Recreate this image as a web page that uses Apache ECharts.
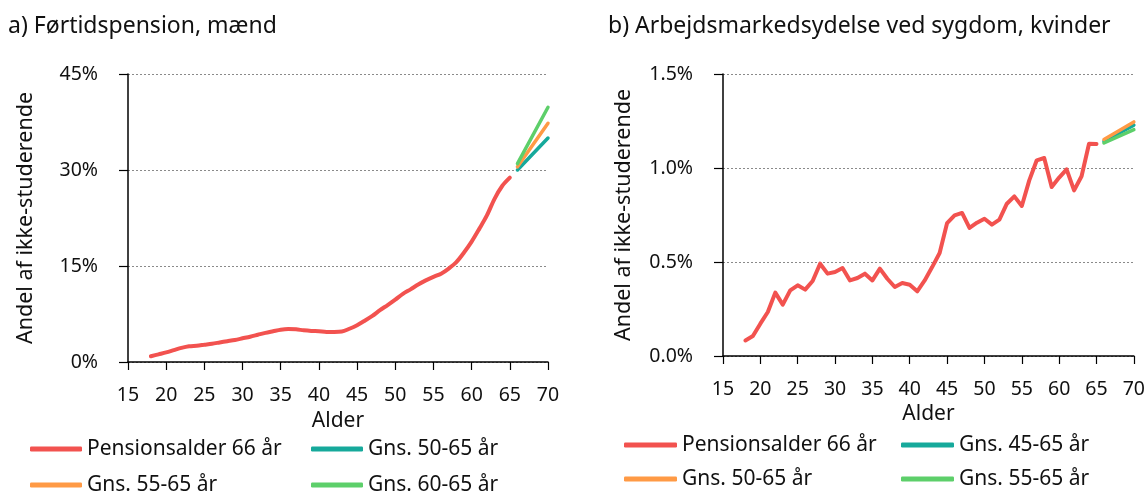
<!DOCTYPE html>
<html>
<head>
<meta charset="utf-8">
<script src="https://cdn.jsdelivr.net/npm/echarts@6/dist/echarts.min.js"></script>
<style>
  html, body { margin: 0; padding: 0; background: #fff; }
  #wrap { position: relative; width: 1148px; height: 491px; overflow: hidden; }
  #chartA { position: absolute; left: 0; top: 0; width: 590px; height: 560px; }
  #chartB { position: absolute; left: 590px; top: 0; width: 558px; height: 560px; }
</style>
</head>
<body>
<div id="wrap">
  <div id="chartA"></div>
  <div id="chartB"></div>
</div>
<script>
// ---- Panel a) Førtidspension, mænd ----
const agesA = [18,19,20,21,22,23,24,25,26,27,28,29,30,31,32,33,34,35,36,37,38,39,40,41,42,43,44,45,46,47,48,49,50,51,52,53,54,55,56,57,58,59,60,61,62,63,64,65];
const pensionA = [0.9,1.2,1.5,1.85,2.2,2.45,2.55,2.7,2.85,3.05,3.25,3.45,3.7,3.95,4.25,4.55,4.8,5.05,5.15,5.1,4.95,4.85,4.8,4.7,4.7,4.75,5.2,5.75,6.45,7.2,8.1,8.9,9.75,10.65,11.35,12.1,12.75,13.3,13.8,14.6,15.6,17.1,18.8,20.8,22.9,25.5,27.5,28.8];
const projAgesA = [66, 70];
const gns5065A = [30.0, 35.0];
const gns5565A = [30.5, 37.3];
const gns6065A = [31.0, 39.8];
const yTicksA = [0, 15, 30, 45];

// ---- Panel b) Arbejdsmarkedsydelse ved sygdom, kvinder ----
const agesB = [18,19,20,21,22,23,24,25,26,27,28,29,30,31,32,33,34,35,36,37,38,39,40,41,42,43,44,45,46,47,48,49,50,51,52,53,54,55,56,57,58,59,60,61,62,63,64,65];
const pensionB = [0.083,0.106,0.172,0.234,0.337,0.273,0.349,0.376,0.353,0.399,0.491,0.438,0.447,0.468,0.402,0.415,0.438,0.402,0.465,0.411,0.367,0.388,0.379,0.344,0.402,0.473,0.548,0.707,0.748,0.761,0.681,0.709,0.730,0.699,0.725,0.810,0.849,0.798,0.934,1.041,1.053,0.899,0.949,0.993,0.881,0.956,1.129,1.128];
const projAgesB = [66, 70];
const gns4565B = [1.142, 1.228];
const gns5065B = [1.151, 1.245];
const gns5565B = [1.133, 1.204];
const yTicksB = [0, 0.5, 1.0, 1.5];

const xTicks = [15, 20, 25, 30, 35, 40, 45, 50, 55, 60, 65, 70];

const RED = '#F2524F', TEAL = '#16A99B', ORANGE = '#FF9A45', GREEN = '#5DCF6A';
const FONT = '"Noto Sans", "Open Sans", sans-serif';

function pairs(xs, ys) { return xs.map((x, i) => [x, ys[i]]); }

function panel(cfg) {
  const axisLine = { show: true, lineStyle: { color: '#000', width: 1.5 } };
  const mkSeries = (name, xs, ys, color, width, smooth) => ({
    name, type: 'line', data: pairs(xs, ys), symbol: 'none', smooth: smooth,
    lineStyle: { color, width, cap: 'round', join: 'round' },
    itemStyle: { color }, animation: false
  });
  const legendCol = (left, names) => ({
    orient: 'vertical', left, top: cfg.legTop, itemGap: cfg.legGap, padding: 0,
    itemWidth: cfg.legW, itemHeight: 5, icon: 'roundRect',
    textStyle: { fontFamily: FONT, fontSize: 21, color: '#111', lineHeight: 22 },
    data: names
  });
  return {
    animation: false,
    textStyle: { fontFamily: FONT },
    title: {
      text: cfg.title, left: cfg.titleLeft, top: 10,
      textStyle: { fontFamily: FONT, fontSize: 23, fontWeight: 'normal', color: '#111' }
    },
    grid: { left: cfg.grid.left, top: cfg.grid.top, width: cfg.grid.width, height: cfg.grid.height },
    legend: [
      legendCol(cfg.leg1, [cfg.series[0].name, cfg.series[2].name]),
      legendCol(cfg.leg2, [cfg.series[1].name, cfg.series[3].name])
    ],
    xAxis: {
      type: 'value', min: xTicks[0], max: xTicks[xTicks.length - 1], interval: 5,
      name: 'Alder', nameLocation: 'middle', nameGap: cfg.xNameGap,
      nameTextStyle: { fontFamily: FONT, fontSize: 21, color: '#111' },
      axisLine, axisTick: { show: true, length: 8, lineStyle: { color: '#000', width: 1.2 } },
      axisLabel: { fontFamily: FONT, fontSize: 19.5, color: '#111', margin: cfg.xLabelMargin },
      splitLine: { show: false }
    },
    yAxis: {
      type: 'value', min: cfg.yTicks[0], max: cfg.yTicks[cfg.yTicks.length - 1],
      interval: cfg.yTicks[1] - cfg.yTicks[0],
      name: 'Andel af ikke-studerende', nameLocation: 'middle', nameGap: cfg.yNameGap,
      nameTextStyle: { fontFamily: FONT, fontSize: 21.5, color: '#111' },
      axisLine, axisTick: { show: true, length: 9, lineStyle: { color: '#000', width: 1.2 } },
      axisLabel: { fontFamily: FONT, fontSize: 19.5, color: '#111', margin: 30, formatter: cfg.yFmt },
      splitLine: { show: true, lineStyle: { color: '#8a8a8a', width: 1, type: [2, 2] } }
    },
    series: cfg.series.map(s => mkSeries(s.name, s.x, s.y, s.color, s.width, s.smooth))
  };
}

const chartA = echarts.init(document.getElementById('chartA'), null, { renderer: 'canvas' });
chartA.setOption(panel({
  title: 'a) Førtidspension, mænd', titleLeft: 3,
  grid: { left: 128, top: 74, width: 420, height: 288 },
  yTicks: yTicksA, yFmt: v => v + '%', yNameGap: 91,
  xNameGap: 49, xLabelMargin: 23,
  leg1: 30, leg2: 311, legTop: 438, legGap: 14, legW: 52,
  series: [
    { name: 'Pensionsalder 66 år', x: agesA, y: pensionA, color: RED, width: 4, smooth: 0.3 },
    { name: 'Gns. 50-65 år', x: projAgesA, y: gns5065A, color: TEAL, width: 3.5, smooth: false },
    { name: 'Gns. 55-65 år', x: projAgesA, y: gns5565A, color: ORANGE, width: 3.5, smooth: false },
    { name: 'Gns. 60-65 år', x: projAgesA, y: gns6065A, color: GREEN, width: 3.5, smooth: false }
  ]
}));

const chartB = echarts.init(document.getElementById('chartB'), null, { renderer: 'canvas' });
chartB.setOption(panel({
  title: 'b) Arbejdsmarkedsydelse ved sygdom, kvinder', titleLeft: 13,
  grid: { left: 133, top: 74, width: 412, height: 282 },
  yTicks: yTicksB, yFmt: v => v.toFixed(1) + '%', yNameGap: 88,
  xNameGap: 47, xLabelMargin: 23,
  leg1: 34, leg2: 311, legTop: 434, legGap: 12, legW: 53,
  series: [
    { name: 'Pensionsalder 66 år', x: agesB, y: pensionB, color: RED, width: 4, smooth: false },
    { name: 'Gns. 45-65 år', x: projAgesB, y: gns4565B, color: TEAL, width: 3.5, smooth: false },
    { name: 'Gns. 50-65 år', x: projAgesB, y: gns5065B, color: ORANGE, width: 3.5, smooth: false },
    { name: 'Gns. 55-65 år', x: projAgesB, y: gns5565B, color: GREEN, width: 3.5, smooth: false }
  ]
}));
</script>
</body>
</html>
